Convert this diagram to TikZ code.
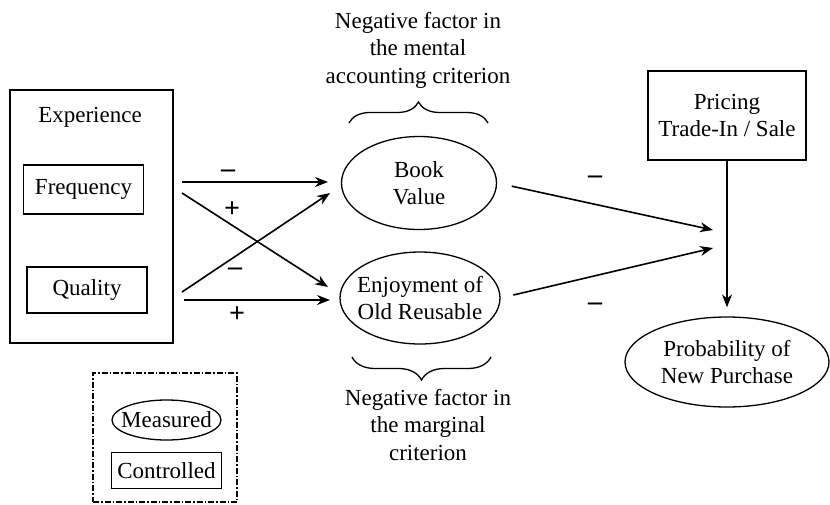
\documentclass[tikz,border=0pt]{standalone}
\usepackage{fontspec}
\setmainfont{Liberation Serif}
\usetikzlibrary{positioning, arrows.meta, shapes.geometric, decorations.pathreplacing}
\tikzset{
	>={Stealth[length=13pt,width=10pt]}, % bold filled arrow heads
	every node/.style={font=\fontsize{23}{27.5}\selectfont, inner sep=0pt, align=center}, % all text in one size
	measured/.style={draw, ellipse, line width=1.3pt, inner xsep=-14pt}, % ellipse for measured variables
	controlled/.style={draw, rectangle, line width=1.3pt}, % box for controlled variables
	link/.style={->, line width=1.6pt}, % the effect arrows
	sign/.style={font=\bfseries\fontsize{28}{28}\selectfont}, % the + and - on the arrows
	factor/.style={decorate, decoration={brace, amplitude=#1}, line width=1.3pt}, % curly brace over a factor
}

\begin{document}
\begin{tikzpicture}[x=1pt, y=-1pt]
	\useasboundingbox (0,0) rectangle (830,504);

	% experience block
	\node[controlled, minimum width=163pt, minimum height=253pt] (exp) at (91.5,216.5) {};
	\node (exptext) at (90,117) {Experience};
	\node[controlled, minimum width=120pt, minimum height=49pt] (freq) at (83.5,189.5) {Frequency};
	\node[controlled, minimum width=120pt, minimum height=46pt] (qual) at (87,290) {Quality};

	% the two factors
	\node[measured, minimum width=155pt, minimum height=93pt] (book) at (419,183) {Book\\Value};
	\node[measured, minimum width=160pt, minimum height=92pt] (enjoy) at (420,298) {Enjoyment of\\Old Reusable};
	\node (topnote) at (418,50) {Negative factor in\\the mental\\accounting criterion};
	\node (botnote) at (428,425) {Negative factor in\\the marginal\\criterion};
	\draw[factor=21pt] (349,123) -- (488,123);
	\draw[factor=23pt] (491,357) -- (352,357);

	% outcome
	\node[controlled, minimum width=158pt, minimum height=89pt] (price) at (727,115.5) {Pricing\\Trade-In / Sale};
	\node[measured, minimum width=204pt, minimum height=90pt] (prob) at (727,362) {Probability of\\New Purchase};

	% legend
	\node[draw, line width=1.1pt, dash pattern=on 6pt off 2pt on 1.5pt off 2pt, minimum width=144pt, minimum height=129pt] (legend) at (165,437.5) {};
	\node[measured, minimum width=109pt, minimum height=40pt] (meas) at (166.5,420) {Measured};
	\node[controlled, minimum width=110pt, minimum height=36pt, below=11pt of meas] (ctrl) {Controlled};

	% arrow ends
	\coordinate (fq-a) at (182,182);
	\coordinate (fq-b) at (182,193);
	\coordinate (ql-a) at (182,292);
	\coordinate (ql-b) at (184,300);
	\coordinate (bv-a) at (328,182);
	\coordinate (bv-b) at (330,193);
	\coordinate (ej-a) at (328,287);
	\coordinate (ej-b) at (330,300);
	\coordinate (pp-a) at (713,230);
	\coordinate (pp-b) at (713,248);

	\draw[link] (fq-a) -- (bv-a);
	\draw[link] (fq-b) -- (ej-a);
	\draw[link] (ql-a) -- (bv-b);
	\draw[link] (ql-b) -- (ej-b);
	\draw[link, shorten <=15pt] (book.east) -- (pp-a);
	\draw[link, shorten <=13pt] (enjoy.east) -- (pp-b);
	\draw[link, shorten >=9pt] (price.south) -- (prob.north);

	% signs
	\node[sign] (s1) at (228,174) {–};
	\node[sign] (s2) at (232,210) {+};
	\node[sign] (s3) at (235,272) {–};
	\node[sign] (s4) at (237,315) {+};
	\node[sign] (s5) at (595,180) {–};
	\node[sign] (s6) at (595,307) {–};
\end{tikzpicture}
\end{document}
